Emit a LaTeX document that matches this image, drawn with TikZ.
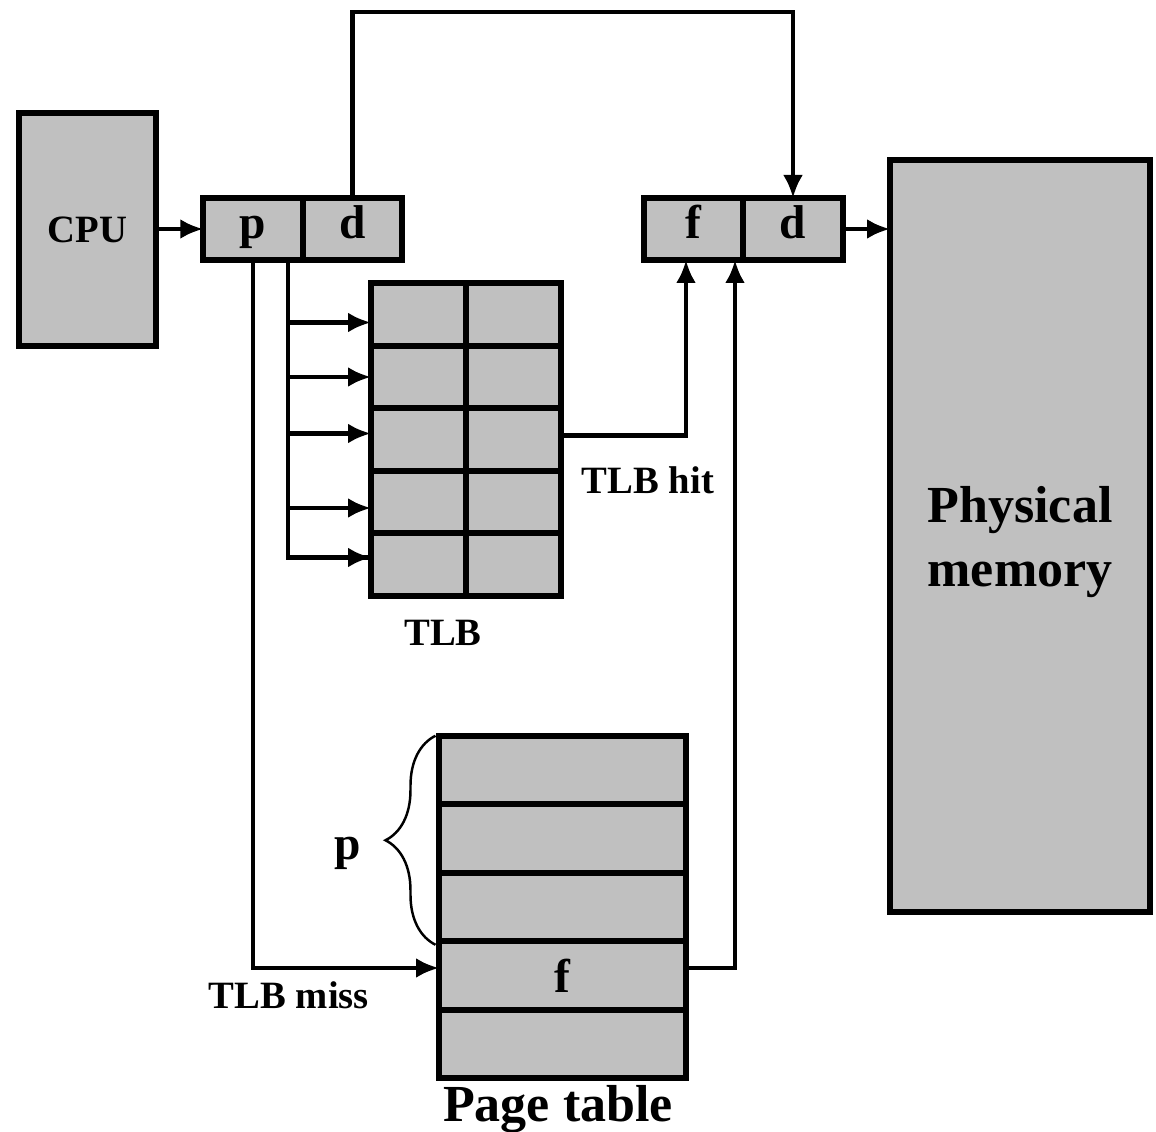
\documentclass[tikz,border=0pt]{standalone}
\usepackage{fontspec}
\setmainfont{Liberation Serif}
\usetikzlibrary{arrows.meta,positioning,decorations.pathreplacing}
\definecolor{cellgray}{RGB}{192,192,192}

\begin{document}
\begin{tikzpicture}[
  font=\bfseries,
  >={Latex[length=4.6mm,width=4mm]},
  line/.style={draw=black, line width=2.8pt},
  arrow/.style={->, draw=black, line width=2.8pt},
  cell/.style={draw=black, fill=cellgray, line width=3.5pt, inner sep=0pt, outer sep=0pt},
  tlbcell/.style={cell, minimum width=1.9cm, minimum height=1.25cm},
  ptrow/.style={cell, minimum width=4.94cm, minimum height=1.37cm},
  addr/.style={cell, minimum width=1.99cm, minimum height=1.24cm, text height=0.4cm, text depth=0pt,
    font=\fontsize{27}{30}\selectfont\bfseries},
  label/.style={font=\fontsize{22}{26}\selectfont\bfseries},
  biglabel/.style={font=\fontsize{29.6}{36}\selectfont\bfseries, align=center}
]
\useasboundingbox (0,0) rectangle (23.12,22.62);

% CPU and logical address.
\node[cell, minimum width=2.74cm, minimum height=4.66cm, label] (cpu) at (1.75,18.03) {CPU};
\node[addr] (lp) at (5.06,18.04) {p};
\node[addr] (ld) at (7.05,18.04) {d};

% Physical address and memory.
\node[addr] (pf) at (13.87,18.04) {f};
\node[addr] (pd) at (15.86,18.04) {d};
\node[cell, minimum width=5.20cm, minimum height=15.04cm, biglabel] (mem) at (20.40,11.90) {};
\node[biglabel] at (20.40,11.78) {Physical\\memory};

% TLB.
\node[tlbcell] (tlb1a) at (8.37,16.33) {};
\node[tlbcell] (tlb1b) at (10.27,16.33) {};
\node[tlbcell] (tlb2a) at (8.37,15.08) {};
\node[tlbcell] (tlb2b) at (10.27,15.08) {};
\node[tlbcell] (tlb3a) at (8.37,13.83) {};
\node[tlbcell] (tlb3b) at (10.27,13.83) {};
\node[tlbcell] (tlb4a) at (8.37,12.58) {};
\node[tlbcell] (tlb4b) at (10.27,12.58) {};
\node[tlbcell] (tlb5a) at (8.37,11.33) {};
\node[tlbcell] (tlb5b) at (10.27,11.33) {};
\node[label] at (8.86,9.96) {TLB};

% Page table.
\node[ptrow] (pt1) at (11.25,7.22) {};
\node[ptrow] (pt2) at (11.25,5.85) {};
\node[ptrow] (pt3) at (11.25,4.48) {};
\node[ptrow, font=\fontsize{27}{30}\selectfont\bfseries] (pt4) at (11.25,3.11) {f};
\node[ptrow] (pt5) at (11.25,1.74) {};
\node[biglabel] at (11.16,0.44) {Page table};

\draw[line width=1.4pt, decorate, decoration={brace, amplitude=1cm}]
  ([xshift=-2pt,yshift=-2pt]pt4.north west) -- ([xshift=-2pt]pt1.north west);
\node[font=\fontsize{27}{30}\selectfont\bfseries] at (6.96,5.56) {p};

% Address flow.
\draw[arrow] (cpu.east |- lp.west) -- (lp.west);
\draw[arrow] (pd.east) -- (pd.east -| mem.west);
\draw[arrow] (ld.north) -- ++(0,3.72) -| (pd.north);

% Lookup in the TLB.
\coordinate (bus) at ([xshift=7mm]lp.south);
\draw[line] (bus) |- ([yshift=1.4mm]tlb5a.west);
\draw[arrow] ([yshift=-1.6mm]bus |- tlb1a.west) -- ([yshift=-1.6mm]tlb1a.west);
\draw[arrow] (bus |- tlb2a.west) -- (tlb2a.west);
\draw[arrow] ([yshift=1.2mm]bus |- tlb3a.west) -- ([yshift=1.2mm]tlb3a.west);
\draw[arrow] ([yshift=-1.2mm]bus |- tlb4a.west) -- ([yshift=-1.2mm]tlb4a.west);
\draw[arrow] ([yshift=1.4mm]bus |- tlb5a.west) -- ([yshift=1.4mm]tlb5a.west);

\draw[arrow] ([yshift=0.8mm]tlb3b.east) -| ([xshift=-1.5mm]pf.south);
\node[label] at (12.96,13.02) {TLB hit};

% Miss goes through the page table.
\draw[arrow] (lp.south) |- ([yshift=1.5mm]pt4.west);
\node[label] at (5.78,2.72) {TLB miss};
\draw[arrow] ([yshift=1.5mm]pt4.east) -| ([xshift=8.3mm]pf.south);

\end{tikzpicture}
\end{document}
